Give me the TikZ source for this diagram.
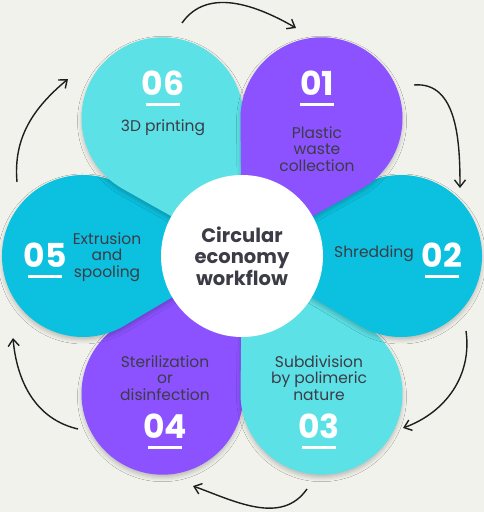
\documentclass[tikz,border=0pt]{standalone}
\usepackage{fontspec}
\setmainfont{Poppins}
\usetikzlibrary{arrows.meta,calc,shadows.blur}
\definecolor{violetP}{HTML}{8C52FF}
\definecolor{aquaL}{HTML}{5CE1E6}
\definecolor{aquaD}{HTML}{0CC0DF}
\definecolor{bgcol}{HTML}{F2F2EC}
\definecolor{ink}{HTML}{3C3C46}
\definecolor{pen}{HTML}{1E1E1E}
\begin{document}
\begin{tikzpicture}[x=1pt, y=1pt,
	petal/.style={blur shadow={shadow xshift=0pt, shadow yshift=-3pt, shadow blur radius=4pt, shadow opacity=22}},
	num/.style={inner sep=0pt, text=white, font=\bfseries\fontsize{33}{33}\selectfont},
	lbl/.style={text=ink, align=center, font=\fontsize{15.5}{16.5}\selectfont},
	bar/.style={white, line width=3pt},
	cyclearrow/.style={pen, line width=1.4pt, -{Straight Barb[length=7pt, width=11pt]}}]
	\useasboundingbox (0,0) rectangle (484,512);
	\fill[bgcol] (0,0) rectangle (484,512);
	\coordinate (c) at (242,256);
	% petals, lowest first
	\foreach \ang/\col in {-120/violetP, -60/aquaL, 180/aquaD, 0/aquaD, 120/aquaL, 60/violetP}
		\fill[\col, petal] (c) -- ($(c)+(\ang:159pt)+(\ang-120.6:81pt)$) arc[start angle=\ang-120.6, end angle=\ang+120.6, radius=81pt] -- cycle;
	\node[circle, fill=white, minimum size=162pt, inner sep=0pt, align=center, text=ink, font=\bfseries\fontsize{19.5}{21.5}\selectfont] (hub) at (c) {Circular\\economy\\workflow};
	% numbers and labels
	\node[num] (n01) at (317,429) {01};
	\node[lbl] (t01) at (317,363) {Plastic\\waste\\collection};
	\node[num] (n02) at (442,257) {02};
	\node[lbl] (t02) at (374,258) {Shredding};
	\node[num] (n03) at (319,86) {03};
	\node[lbl] (t03) at (319,134) {Subdivision\\by polimeric\\nature};
	\node[num] (n04) at (165,86) {04};
	\node[lbl] (t04) at (165,134) {Sterilization\\or\\disinfection};
	\node[num] (n05) at (45,257) {05};
	\node[lbl] (t05) at (107,255) {Extrusion\\and\\spooling};
	\node[num] (n06) at (163,429) {06};
	\node[lbl] (t06) at (163,384) {3D printing};
	\foreach \n in {n01,n02,n03,n04,n05,n06}
		\draw[bar] ([shift={(-17pt,-9pt)}]\n.south) -- ++(34pt,0);
	% arrows round the outside
	\coordinate (a1s) at (182,489); \coordinate (a1e) at (296,484);
	\coordinate (a2s) at (414,427); \coordinate (a2e) at (460,324);
	\coordinate (a3s) at (466,181); \coordinate (a3e) at (403,84);
	\coordinate (a4s) at (307,23);  \coordinate (a4e) at (193,26);
	\coordinate (a5s) at (78,83);   \coordinate (a5e) at (13,174);
	\coordinate (a6s) at (17,330);  \coordinate (a6e) at (68,433);
	\draw[cyclearrow] (a1s) to[out=55, in=150] (a1e);
	\draw[cyclearrow] (a2s) to[out=5, in=90] (a2e);
	\draw[cyclearrow] (a3s) to[out=-82, in=20] (a3e);
	\draw[cyclearrow] (a4s) to[out=-125, in=-20] (a4e);
	\draw[cyclearrow] (a5s) to[out=167, in=-85] (a5e);
	\draw[cyclearrow] (a6s) to[out=95, in=-140] (a6e);
\end{tikzpicture}
\end{document}
